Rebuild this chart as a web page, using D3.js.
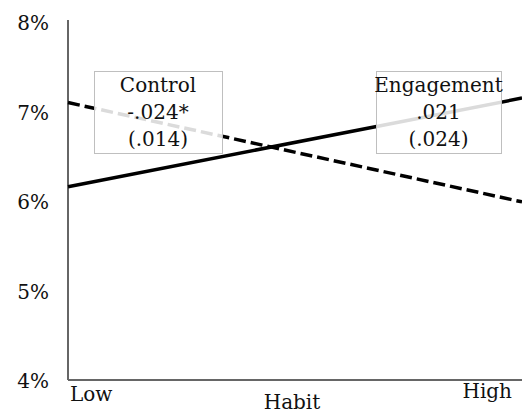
<!DOCTYPE html>
<html>
<head>
<meta charset="utf-8">
<script src="https://cdn.jsdelivr.net/npm/d3@7"></script>
<style>
  html, body { margin: 0; padding: 0; background: #fff; }
  svg { display: block; font-family: "DejaVu Serif", "Liberation Serif", serif; }
</style>
</head>
<body>
<svg id="chart" width="522" height="414"></svg>
<script>
// Habit levels on the x axis
const habitLevels = ["Low", "High"];
// Predicted rates (%) at low and high habit
const engagementValues = [6.16, 7.15];
const controlValues = [7.10, 5.99];
// Y axis ticks (%)
const yTicks = [4, 5, 6, 7, 8];
// Coefficient annotations
const seriesNames = ["Control", "Engagement"];
const coefficients = ["-.024*", ".021"];
const standardErrors = ["(.014)", "(.024)"];

const svg = d3.select("#chart");
const plotLeft = 68, plotRight = 522, plotTop = 22, plotBottom = 380;
const textColor = "#111";

const x = d3.scalePoint().domain(habitLevels).range([plotLeft, plotRight]);
const y = d3.scaleLinear().domain([4, 8]).range([plotBottom, plotTop]);

// Axis lines
svg.append("line")
  .attr("x1", plotLeft).attr("x2", plotLeft).attr("y1", 20).attr("y2", plotBottom)
  .attr("stroke", "#333").attr("stroke-width", 1.5);
svg.append("line")
  .attr("x1", plotLeft).attr("x2", 522).attr("y1", plotBottom).attr("y2", plotBottom)
  .attr("stroke", "#666").attr("stroke-width", 2);

// Y tick labels
svg.selectAll("text.ytick").data(yTicks).join("text")
  .attr("class", "ytick")
  .attr("x", 49).attr("y", d => y(d) + 1)
  .attr("text-anchor", "end").attr("dominant-baseline", "central")
  .attr("font-size", 20).attr("fill", textColor)
  .text(d => d + "%");

// X category labels
svg.append("text").attr("x", x("Low") + 2).attr("y", 401)
  .attr("font-size", 20).attr("fill", textColor).text(habitLevels[0]);
svg.append("text").attr("x", x("High") - 10).attr("y", 398)
  .attr("text-anchor", "end")
  .attr("font-size", 20).attr("fill", textColor).text(habitLevels[1]);
svg.append("text").attr("x", 292).attr("y", 409)
  .attr("text-anchor", "middle")
  .attr("font-size", 20).attr("fill", textColor).text("Habit");

const line = d3.line().x((d, i) => x(habitLevels[i])).y(d => y(d));

// Control (dashed) and Engagement (solid)
svg.append("path").datum(controlValues)
  .attr("d", line).attr("fill", "none")
  .attr("stroke", "#000").attr("stroke-width", 3.5)
  .attr("stroke-dasharray", "12,5");
svg.append("path").datum(engagementValues)
  .attr("d", line).attr("fill", "none")
  .attr("stroke", "#000").attr("stroke-width", 3.5);

// Annotation boxes
const boxes = [
  { x0: 94, x1: 222 },
  { x0: 376, x1: 501 }
];
boxes.forEach((b, i) => {
  const g = svg.append("g");
  g.append("rect")
    .attr("x", b.x0 + 0.5).attr("y", 71.5)
    .attr("width", b.x1 - b.x0).attr("height", 82)
    .attr("fill", "#fff").attr("fill-opacity", 0.86)
    .attr("stroke", "#bfbfbf").attr("stroke-width", 1);
  const cx = (b.x0 + b.x1) / 2;
  [seriesNames[i], coefficients[i], standardErrors[i]].forEach((t, j) => {
    g.append("text")
      .attr("x", cx).attr("y", 92 + j * 27)
      .attr("text-anchor", "middle")
      .attr("font-size", 20).attr("fill", textColor)
      .text(t);
  });
});
</script>
</body>
</html>
